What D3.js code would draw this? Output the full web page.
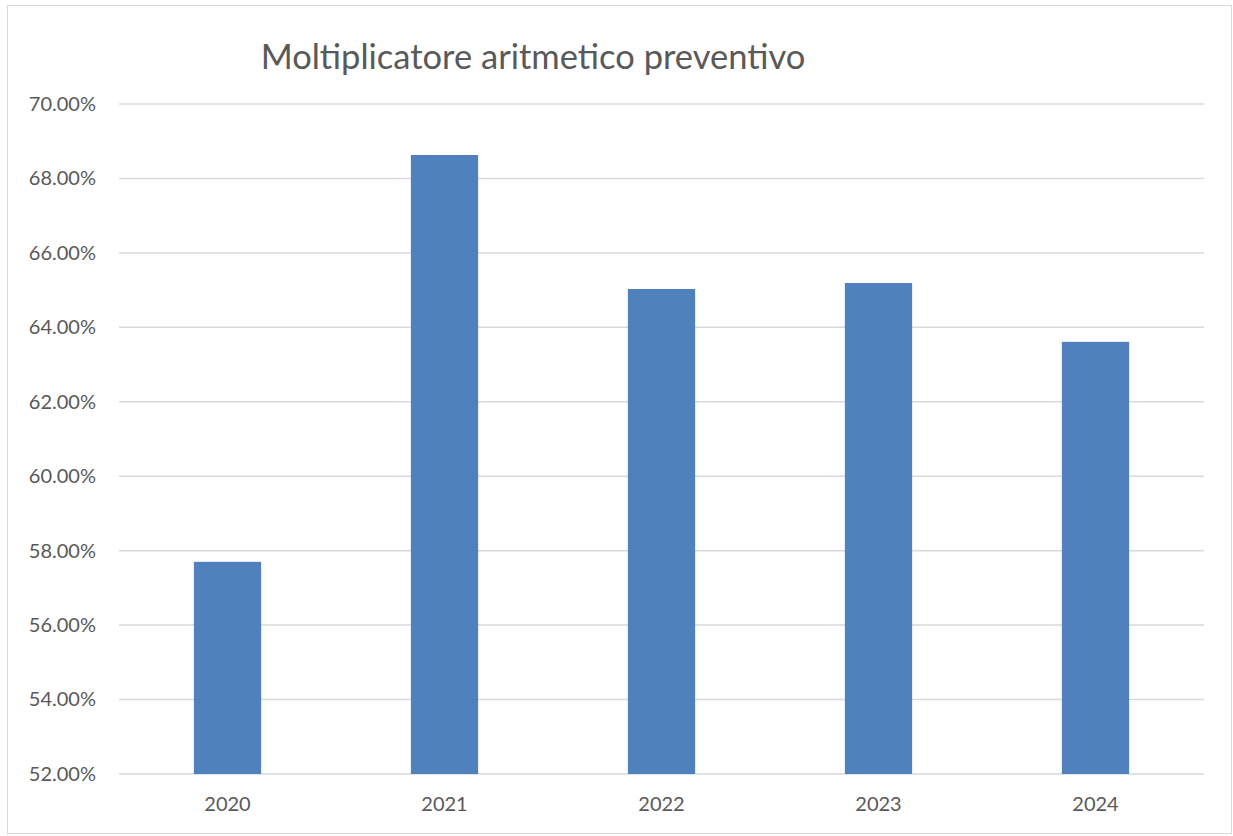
<!DOCTYPE html>
<html>
<head>
<meta charset="utf-8">
<script src="https://cdn.jsdelivr.net/npm/d3@7"></script>
<style>
  body { margin: 0; background: #fff; }
  text { font-family: Lato, "Open Sans", sans-serif; fill: #595959; }
</style>
</head>
<body>
<div id="chart"></div>
<script>
// Data
const years = ['2020', '2021', '2022', '2023', '2024'];
const values = [0.5770, 0.6863, 0.6503, 0.6519, 0.6361];
const yTicks = [0.52, 0.54, 0.56, 0.58, 0.60, 0.62, 0.64, 0.66, 0.68, 0.70];
const title = 'Moltiplicatore aritmetico preventivo';

const W = 1233, H = 836;
const margin = { top: 104, right: 29, bottom: 62, left: 119 };
const width = W - margin.left - margin.right;
const height = H - margin.top - margin.bottom;

const svg = d3.select('#chart')
    .append('svg')
    .attr('width', W)
    .attr('height', H);

// chart border
svg.append('rect')
    .attr('x', 7.5).attr('y', 5.5)
    .attr('width', 1224).attr('height', 828)
    .attr('fill', 'none')
    .attr('stroke', '#d9d9d9')
    .attr('stroke-width', 1);

const g = svg.append('g')
    .attr('transform', `translate(${margin.left}, ${margin.top})`);

const x = d3.scaleBand()
    .domain(years)
    .range([0, width])
    .paddingInner(0.69)
    .paddingOuter(0.345);

const y = d3.scaleLinear()
    .domain([0.52, 0.70])
    .range([height, 0]);

// gridlines
g.append('g')
    .selectAll('line')
    .data(yTicks)
    .enter()
    .append('line')
    .attr('x1', 0)
    .attr('x2', width)
    .attr('y1', d => y(d))
    .attr('y2', d => y(d))
    .attr('stroke', '#d9d9d9')
    .attr('stroke-width', 1.5);

// y axis labels
const yAxis = d3.axisLeft(y)
    .tickValues(yTicks)
    .tickFormat(d3.format('.2%'))
    .tickSize(0)
    .tickPadding(23);

g.append('g')
    .call(yAxis)
    .call(s => s.select('.domain').remove())
    .selectAll('text')
    .style('font-size', '20px')
    .attr('fill', '#595959');

// bars
g.selectAll('.bar')
    .data(values)
    .enter()
    .append('rect')
    .attr('class', 'bar')
    .attr('x', (d, i) => x(years[i]))
    .attr('y', d => y(d))
    .attr('width', x.bandwidth())
    .attr('height', d => height - y(d))
    .attr('fill', '#4f81bd');

// x axis
const xAxis = d3.axisBottom(x)
    .tickSize(0)
    .tickPadding(23);

g.append('g')
    .attr('transform', `translate(0, ${height})`)
    .call(xAxis)
    .call(s => s.select('.domain').remove())
    .selectAll('text')
    .style('font-size', '20px')
    .attr('fill', '#595959');

// title
svg.append('text')
    .attr('x', 533)
    .attr('y', 69)
    .attr('text-anchor', 'middle')
    .style('font-size', '34.5px')
    .text(title);
</script>
</body>
</html>
